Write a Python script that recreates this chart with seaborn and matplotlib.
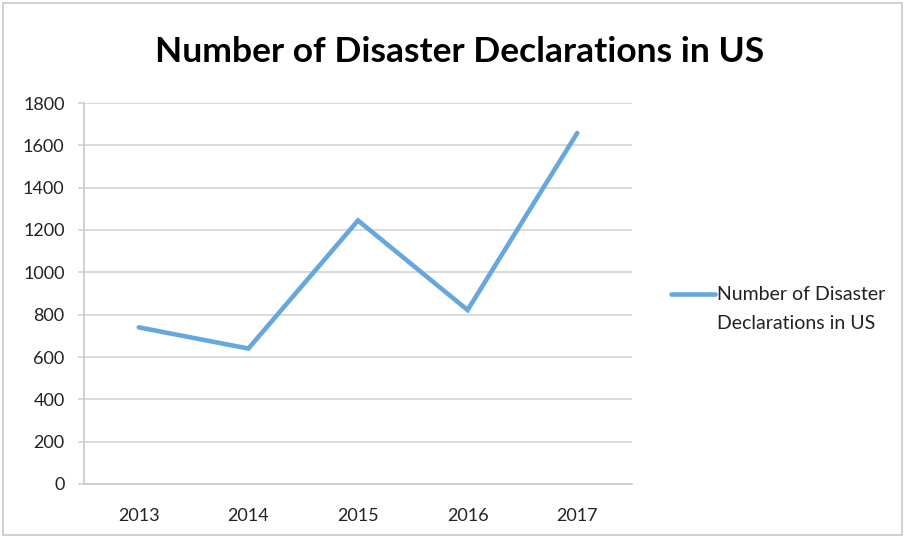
import matplotlib
matplotlib.use("Agg")
import matplotlib.pyplot as plt
import seaborn as sns
import pandas as pd
from matplotlib.patches import Rectangle
from matplotlib.legend_handler import HandlerLine2D
from matplotlib.lines import Line2D

years = ["2013", "2014", "2015", "2016", "2017"]
declarations = [740, 640, 1245, 822, 1658]
series_name = "Number of Disaster\nDeclarations in US"
title = "Number of Disaster Declarations in US"
yticks = [0, 200, 400, 600, 800, 1000, 1200, 1400, 1600, 1800]

df = pd.DataFrame({"Year": years, "Count": declarations})

sns.set_style("white")
plt.rcParams['font.family'] = ['Lato', 'DejaVu Sans']

fig = plt.figure(figsize=(9.06, 5.37), dpi=100)
ax = fig.add_axes([84/906, 1-484/537, (632-84)/906, (484-103)/537])

sns.lineplot(data=df, x="Year", y="Count", ax=ax, color="#66A7DE",
             linewidth=3.3, label=series_name, solid_capstyle="round",
             solid_joinstyle="miter", sort=False)

ax.set_xlim(-0.5, 4.5)
ax.set_ylim(0, 1800)
ax.set_yticks(yticks)
ax.set_yticklabels([str(v) for v in yticks])
ax.set_xticks(range(len(years)))
ax.set_xticklabels(years)
ax.set_xticks([i - 0.5 for i in range(len(years) + 1)], minor=True)
ax.grid(axis="y", color="#D4D4D4", linewidth=1.2)
ax.set_axisbelow(True)
for s in ["top", "right"]:
    ax.spines[s].set_visible(False)
for s in ["left", "bottom"]:
    ax.spines[s].set_color("#C8C8C8")
    ax.spines[s].set_linewidth(1.2)
ax.tick_params(axis="x", which="major", length=0, pad=17, labelsize=13, labelcolor="#222222")
ax.tick_params(axis="x", which="minor", length=4.5, width=1.2, color="#C8C8C8", direction="out")
ax.tick_params(axis="y", which="major", length=4, width=1.2, color="#D4D4D4", pad=10,
               labelsize=13, labelcolor="#222222", left=True)
ax.set_xlabel("")
ax.set_ylabel("")

fig.text(460/906, 1-52/537, title, ha="center", va="center", fontsize=25.5,
         fontweight="bold", color="#000000")


class UpHandler(HandlerLine2D):
    def create_artists(self, legend, orig_handle, xdescent, ydescent, width,
                       height, fontsize, trans):
        return super().create_artists(legend, orig_handle, xdescent, ydescent,
                                      width, height + 22, fontsize, trans)


handles, labels = ax.get_legend_handles_labels()
leg = ax.legend(handles, labels, loc="upper left", bbox_to_anchor=(661/906, 1-276/537),
                bbox_transform=fig.transFigure, frameon=False, fontsize=14,
                handlelength=2.3, handletextpad=0.1, borderpad=0,
                handler_map={Line2D: UpHandler()})
for t in leg.get_texts():
    t.set_color("#222222")
    t.set_linespacing(1.9)

fig.patches.append(Rectangle((3/906, 2/537), 899/906, 532/537, transform=fig.transFigure,
                             fill=False, edgecolor="#C8C8C8", linewidth=1.2))

fig.savefig("out.png", dpi=100)
